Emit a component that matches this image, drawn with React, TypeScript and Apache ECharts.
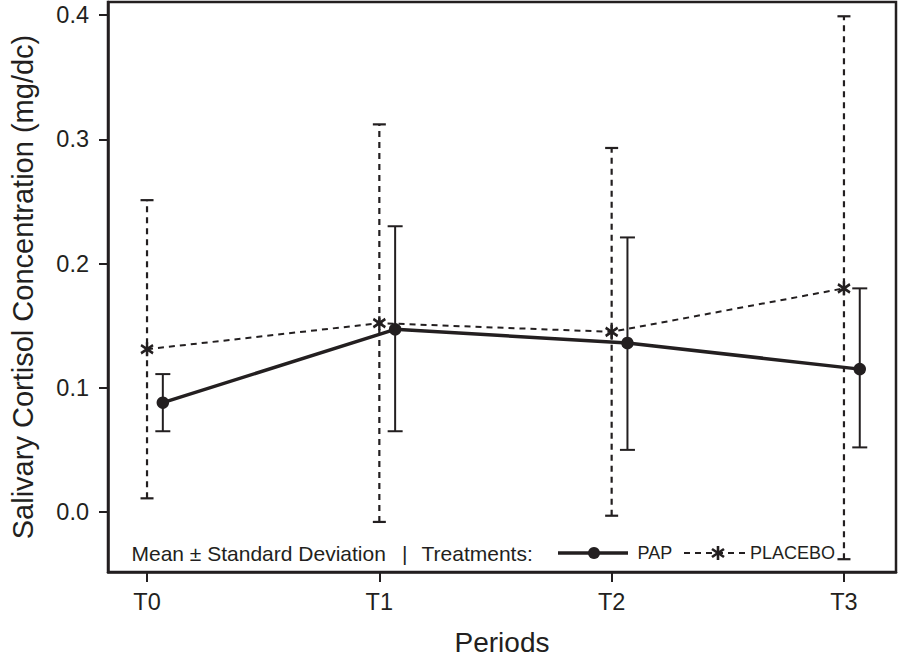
import React, { useEffect, useRef } from "react";
import * as echarts from "echarts";

const categories = ["T0", "T1", "T2", "T3"];
const papMean = [0.088, 0.147, 0.136, 0.115];
const papLow = [0.065, 0.065, 0.05, 0.052];
const papHigh = [0.111, 0.23, 0.221, 0.18];
const placeboMean = [0.131, 0.152, 0.145, 0.18];
const placeboLow = [0.011, -0.008, -0.003, -0.038];
const placeboHigh = [0.251, 0.312, 0.293, 0.399];
const yTicks = [0, 0.1, 0.2, 0.3, 0.4];
const seriesNames = ["PAP", "PLACEBO"];

const INK = "#231f20";
const FONT = "'Liberation Sans', Arial, Helvetica, sans-serif";
const PAP_OFFSET = 0.068;
const STAR = "path://M0,-6.5 L0,6.5 M-5.5,-3.8 L5.5,3.8 M-5.5,3.8 L5.5,-3.8";

function errorBars(name: string, xs: number[], lo: number[], hi: number[], dashed: boolean, capHalf: number) {
  return {
    type: "custom",
    name: name + " SD",
    z: 2,
    silent: true,
    encode: { x: 0, y: [1, 2] },
    data: xs.map((x, i) => [x, lo[i], hi[i]]),
    renderItem: (_params: any, api: any) => {
      const x = api.value(0);
      const pLo = api.coord([x, api.value(1)]);
      const pHi = api.coord([x, api.value(2)]);
      const base = { stroke: INK, lineWidth: dashed ? 2.2 : 2, fill: null };
      return {
        type: "group",
        children: [
          {
            type: "line",
            shape: { x1: pLo[0], y1: pLo[1], x2: pHi[0], y2: pHi[1] },
            style: { ...base, lineDash: dashed ? [6, 5] : null },
          },
          {
            type: "line",
            shape: { x1: pHi[0] - capHalf, y1: pHi[1], x2: pHi[0] + capHalf, y2: pHi[1] },
            style: base,
          },
          {
            type: "line",
            shape: { x1: pLo[0] - capHalf, y1: pLo[1], x2: pLo[0] + capHalf, y2: pLo[1] },
            style: base,
          },
        ],
      };
    },
  };
}

export default function App() {
  const ref = useRef<HTMLDivElement>(null);
  useEffect(() => {
    if (!ref.current) return;
    const chart = echarts.init(ref.current, null, { renderer: "svg" });
    const papX = categories.map((_, i) => i + PAP_OFFSET);
    const plaX = categories.map((_, i) => i);
    const legendY = 553;
    chart.setOption({
      animation: false,
      backgroundColor: "#ffffff",
      textStyle: { fontFamily: FONT, color: INK },
      grid: {
        left: 103.5,
        right: 2,
        top: 2,
        bottom: 92,
        show: true,
        borderColor: INK,
        borderWidth: 2.5,
        containLabel: false,
      },
      xAxis: {
        type: "value",
        min: -0.168,
        max: 3.224,
        name: "Periods",
        nameLocation: "middle",
        nameGap: 56,
        nameTextStyle: { fontSize: 28, color: INK, fontFamily: FONT },
        axisLine: { show: true, onZero: false, lineStyle: { color: INK, width: 2.5 } },
        axisTick: {
          show: true,
          length: 10,
          lineStyle: { color: INK, width: 2 },
          customValues: plaX,
        },
        axisLabel: {
          show: true,
          fontSize: 23.5,
          color: INK,
          fontFamily: FONT,
          margin: 18,
          customValues: plaX,
          formatter: (v: number) => categories[Math.round(v)] ?? "",
        },
        splitLine: { show: false },
      },
      yAxis: {
        type: "value",
        min: -0.0483,
        max: 0.4105,
        name: "Salivary Cortisol Concentration (mg/dc)",
        nameLocation: "middle",
        nameGap: 71,
        nameTextStyle: { fontSize: 29, color: INK, fontFamily: FONT },
        axisLine: { show: true, onZero: false, lineStyle: { color: INK, width: 2.5 } },
        axisTick: {
          show: true,
          length: 9,
          lineStyle: { color: INK, width: 2 },
          customValues: yTicks,
        },
        axisLabel: {
          show: true,
          fontSize: 23.5,
          color: INK,
          fontFamily: FONT,
          margin: 19,
          customValues: yTicks,
          formatter: (v: number) => v.toFixed(1),
        },
        splitLine: { show: false },
      },
      series: [
        errorBars(seriesNames[1], plaX, placeboLow, placeboHigh, true, 6.5),
        errorBars(seriesNames[0], papX, papLow, papHigh, false, 7.5),
        {
          type: "line",
          name: seriesNames[1],
          z: 3,
          data: plaX.map((x, i) => [x, placeboMean[i]]),
          symbol: STAR,
          symbolSize: [12, 14],
          showSymbol: true,
          lineStyle: { color: INK, width: 2, type: [6, 5] },
          itemStyle: { color: INK, borderColor: INK, borderWidth: 2.6 },
        },
        {
          type: "line",
          name: seriesNames[0],
          z: 4,
          data: papX.map((x, i) => [x, papMean[i]]),
          symbol: "circle",
          symbolSize: 12.5,
          showSymbol: true,
          lineStyle: { color: INK, width: 3.5 },
          itemStyle: { color: INK, borderColor: INK, borderWidth: 0 },
        },
      ],
      graphic: [
        {
          type: "text",
          x: 131.5,
          y: legendY,
          style: { text: "Mean ± Standard Deviation", font: `21px ${FONT}`, fill: INK, verticalAlign: "middle" },
        },
        {
          type: "text",
          x: 402,
          y: legendY,
          style: { text: "|", font: `21px ${FONT}`, fill: INK, verticalAlign: "middle" },
        },
        {
          type: "text",
          x: 421.5,
          y: legendY,
          style: { text: "Treatments:", font: `21px ${FONT}`, fill: INK, verticalAlign: "middle" },
        },
        {
          type: "line",
          shape: { x1: 558, y1: legendY, x2: 628, y2: legendY },
          style: { stroke: INK, lineWidth: 3.5 },
        },
        {
          type: "circle",
          shape: { cx: 594, cy: legendY, r: 6 },
          style: { fill: INK },
        },
        {
          type: "text",
          x: 637.5,
          y: legendY,
          style: { text: seriesNames[0], font: `18px ${FONT}`, fill: INK, verticalAlign: "middle" },
        },
        {
          type: "line",
          shape: { x1: 684, y1: legendY, x2: 748, y2: legendY },
          style: { stroke: INK, lineWidth: 2, lineDash: [6, 5] },
        },
        {
          type: "line",
          shape: { x1: 718, y1: legendY - 7, x2: 718, y2: legendY + 7 },
          style: { stroke: INK, lineWidth: 2.6 },
        },
        {
          type: "line",
          shape: { x1: 712, y1: legendY - 4, x2: 724, y2: legendY + 4 },
          style: { stroke: INK, lineWidth: 2.6 },
        },
        {
          type: "line",
          shape: { x1: 712, y1: legendY + 4, x2: 724, y2: legendY - 4 },
          style: { stroke: INK, lineWidth: 2.6 },
        },
        {
          type: "text",
          x: 750,
          y: legendY,
          style: { text: seriesNames[1], font: `18px ${FONT}`, fill: INK, verticalAlign: "middle" },
        },
      ],
    });
    return () => chart.dispose();
  }, []);
  return (
    <div
      ref={ref}
      style={{ position: "fixed", left: 0, top: 0, width: 898, height: 664, background: "#fff" }}
    />
  );
}
